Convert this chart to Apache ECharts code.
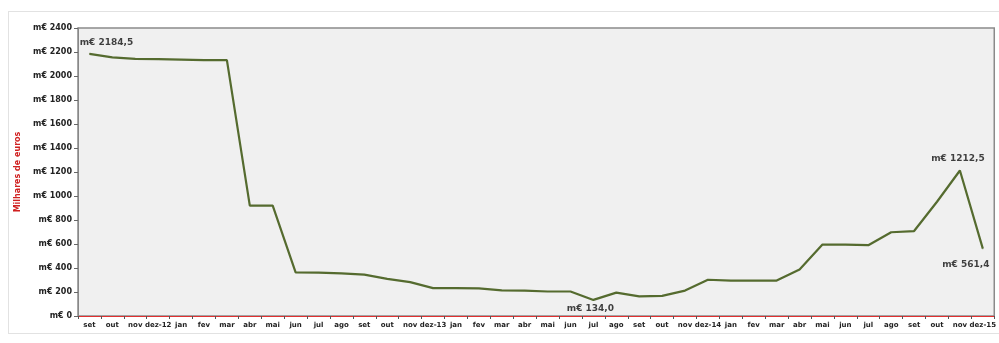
<!DOCTYPE html>
<html><head><meta charset="utf-8">
<script src="https://cdn.jsdelivr.net/npm/echarts@6/dist/echarts.min.js"></script>
<style>html,body{margin:0;padding:0;background:#fff;overflow:hidden;width:999px;height:343px}#c{width:999px;height:343px}
#frame{position:absolute;left:8px;top:11px;width:991px;height:323px;border:1px solid #e2e2e2;border-right:none;box-sizing:border-box;pointer-events:none}</style>
</head><body><div id="frame"></div><div id="c"></div>
<script>
const categories = ['set','out','nov','dez-12','jan','fev','mar','abr','mai','jun','jul','ago','set','out','nov','dez-13','jan','fev','mar','abr','mai','jun','jul','ago','set','out','nov','dez-14','jan','fev','mar','abr','mai','jun','jul','ago','set','out','nov','dez-15'];
const values = [2184.5,2155,2142,2140,2136,2132,2132,920,920,364,362,355,345,310,282,232,232,231,214,212,204,204,134.0,195,163,168,212,302,295,295,295,388,596,595,590,698,708,952,1212.5,561.4];
const yTicks = [0,200,400,600,800,1000,1200,1400,1600,1800,2000,2200,2400];
const labelled = {0:{position:'top',offset:[17,-1]},22:{position:'bottom',offset:[-3,-1]},38:{position:'top',offset:[-2,-2]},39:{position:'bottom',offset:[-17,6]}};

const fmt = v => 'm€ ' + v.toFixed(1).replace('.', ',');

const chart = echarts.init(document.getElementById('c'));
chart.setOption({
  animation:false,
  grid:{left:78,top:28,right:0,bottom:27,show:true,backgroundColor:'#f0f0f0',borderColor:'#8a8a8a',borderWidth:1.5},
  xAxis:{type:'category',data:categories,boundaryGap:true,
    axisLine:{lineStyle:{color:'#e03030',width:1}},
    axisTick:{show:true,length:3,lineStyle:{color:'#555'}},
    axisLabel:{color:'#222',fontSize:7,fontWeight:'bold',fontFamily:'DejaVu Sans',margin:6,interval:0}},
  yAxis:{type:'value',min:0,max:2400,interval:200,
    name:'Milhares de euros',nameLocation:'middle',nameGap:54,nameRotate:90,
    nameTextStyle:{color:'#d02020',fontSize:8,fontWeight:'bold',fontFamily:'DejaVu Sans'},
    axisLine:{show:true,lineStyle:{color:'#888'}},
    axisTick:{show:true,length:4,lineStyle:{color:'#666'}},
    splitLine:{show:false},
    axisLabel:{color:'#222',fontSize:8,fontWeight:'bold',fontFamily:'DejaVu Sans',margin:6,
      formatter:v=> yTicks.includes(v) ? 'm€ '+v : ''}},
  series:[
    {type:'line',data:values,symbol:'none',lineStyle:{color:'#556b2f',width:2.2},z:3,silent:true},
    {type:'scatter',z:4,silent:true,symbolSize:1,itemStyle:{color:'#556b2f'},
     data:Object.keys(labelled).map(k=>{const i=+k;return {value:[i,values[i]],
       label:Object.assign({show:true,formatter:()=>fmt(values[i]),color:'#111',fontWeight:'bold',fontSize:9,fontFamily:'DejaVu Sans'},labelled[i])};})}
  ]
});
</script></body></html>
